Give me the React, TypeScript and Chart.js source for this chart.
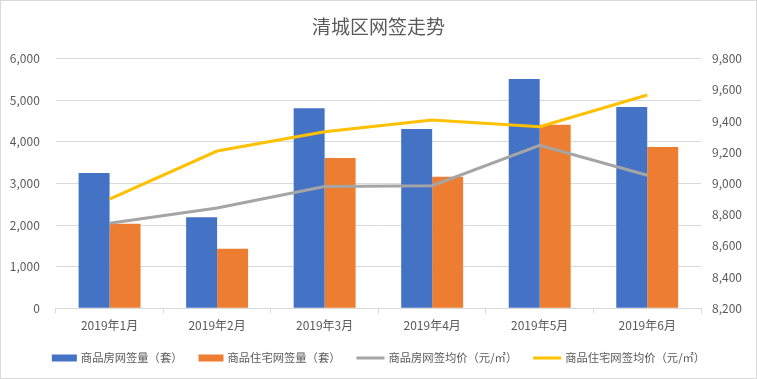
import React, { useEffect, useRef } from "react";
import { Chart, registerables } from "chart.js";

Chart.register(...registerables);

const title = "清城区网签走势";
const categories = ["2019年1月", "2019年2月", "2019年3月", "2019年4月", "2019年5月", "2019年6月"];
const houseSales = [3250, 2190, 4810, 4310, 5510, 4840];
const residentialSales = [2030, 1430, 3610, 3160, 4410, 3880];
const housePrice = [8745, 8843, 8980, 8986, 9245, 9053];
const residentialPrice = [8900, 9208, 9332, 9407, 9364, 9567];
const seriesNames = ["商品房网签量（套）", "商品住宅网签量（套）", "商品房网签均价（元/㎡）", "商品住宅网签均价（元/㎡）"];
const leftAxis = { min: 0, max: 6000, step: 1000 };
const rightAxis = { min: 8200, max: 9800, step: 200 };

const FONT = '"Noto Sans CJK SC", "Noto Sans", sans-serif';
const TEXT = "#595959";
const GRID = "#D9D9D9";
const COLORS = ["#4472C4", "#ED7D31", "#A5A5A5", "#FFC000"];

const W = 757;
const H = 379;
const PLOT = { left: 55.8, right: 701, top: 58.7, bottom: 308.3 };
const X_AXIS_H = 30;

const decorPlugin = {
  id: "decor",
  afterDraw(chart: any) {
    const ctx = chart.ctx as CanvasRenderingContext2D;
    ctx.save();
    // border
    ctx.strokeStyle = GRID;
    ctx.lineWidth = 1;
    ctx.strokeRect(0.5, 0.5, W - 1, H - 1);
    // title
    ctx.fillStyle = TEXT;
    ctx.font = `19px ${FONT}`;
    ctx.textAlign = "center";
    ctx.textBaseline = "middle";
    ctx.fillText(title, W / 2, 27);
    // legend
    ctx.font = `11.3px ${FONT}`;
    ctx.textAlign = "left";
    const items = chart.data.datasets.map((ds: any, i: number) => ({
      text: ds.label,
      color: COLORS[i],
      kind: ds.type === "line" ? "line" : "bar",
    }));
    const boxW = 25;
    const lineW = 28;
    const gap = 4;
    const spacing = 16;
    let total = 0;
    items.forEach((it: any, i: number) => {
      it.w = ctx.measureText(it.text).width;
      total += (it.kind === "bar" ? boxW : lineW) + gap + it.w + (i < items.length - 1 ? spacing : 0);
    });
    let x = W / 2 - total / 2;
    const y = 358;
    items.forEach((it: any) => {
      const sw = it.kind === "bar" ? boxW : lineW;
      ctx.fillStyle = it.color;
      if (it.kind === "bar") {
        ctx.fillRect(x, y - 3.5, sw, 7);
      } else {
        ctx.fillRect(x, y - 1.5, sw, 3);
      }
      x += sw + gap;
      ctx.fillStyle = TEXT;
      ctx.fillText(it.text, x, y);
      x += it.w + spacing;
    });
    ctx.restore();
  },
};

export default function App() {
  const ref = useRef<HTMLCanvasElement | null>(null);
  useEffect(() => {
    if (!ref.current) return;
    Chart.defaults.font.family = FONT;
    Chart.defaults.font.size = 12;
    Chart.defaults.color = TEXT;
    const chart = new Chart(ref.current, {
      type: "bar",
      data: {
        labels: categories,
        datasets: [
          {
            type: "bar",
            label: seriesNames[0],
            data: houseSales,
            backgroundColor: COLORS[0],
            yAxisID: "y",
            order: 2,
            categoryPercentage: 0.576,
            barPercentage: 1,
          },
          {
            type: "bar",
            label: seriesNames[1],
            data: residentialSales,
            backgroundColor: COLORS[1],
            yAxisID: "y",
            order: 2,
            categoryPercentage: 0.576,
            barPercentage: 1,
          },
          {
            type: "line",
            label: seriesNames[2],
            data: housePrice,
            borderColor: COLORS[2],
            backgroundColor: COLORS[2],
            borderWidth: 3,
            pointRadius: 0,
            tension: 0,
            yAxisID: "y1",
            order: 1,
          },
          {
            type: "line",
            label: seriesNames[3],
            data: residentialPrice,
            borderColor: COLORS[3],
            backgroundColor: COLORS[3],
            borderWidth: 3,
            pointRadius: 0,
            tension: 0,
            yAxisID: "y1",
            order: 1,
          },
        ] as any,
      },
      options: {
        responsive: false,
        animation: false,
        locale: "en-US",
        layout: {
          padding: {
            top: PLOT.top,
            bottom: H - PLOT.bottom - X_AXIS_H,
            left: 0,
            right: 0,
          },
        },
        plugins: {
          legend: { display: false },
          title: { display: false },
          tooltip: { enabled: false },
        },
        scales: {
          x: {
            grid: {
              display: true,
              drawOnChartArea: false,
              drawTicks: true,
              tickLength: 5,
              color: GRID,
              offset: true,
            },
            border: { display: true, color: GRID },
            ticks: { color: TEXT, padding: 5, font: { size: 12, family: FONT } },
            afterFit(s: any) {
              s.height = X_AXIS_H;
            },
          },
          y: {
            position: "left",
            min: leftAxis.min,
            max: leftAxis.max,
            ticks: { stepSize: leftAxis.step, color: TEXT, padding: 16, font: { size: 12, family: FONT } },
            grid: { color: GRID, drawTicks: false },
            border: { display: false },
            afterFit(s: any) {
              s.width = PLOT.left;
            },
          },
          y1: {
            position: "right",
            min: rightAxis.min,
            max: rightAxis.max,
            ticks: { stepSize: rightAxis.step, color: TEXT, padding: 11, font: { size: 12, family: FONT } },
            grid: { display: false, drawTicks: false },
            border: { display: false },
            afterFit(s: any) {
              s.width = W - PLOT.right;
            },
          },
        },
      },
      plugins: [decorPlugin],
    });
    return () => chart.destroy();
  }, []);
  return (
    <div style={{ position: "absolute", left: 0, top: 0, width: W, height: H, background: "#fff" }}>
      <canvas ref={ref} width={W} height={H} style={{ width: W, height: H, display: "block" }} />
    </div>
  );
}
